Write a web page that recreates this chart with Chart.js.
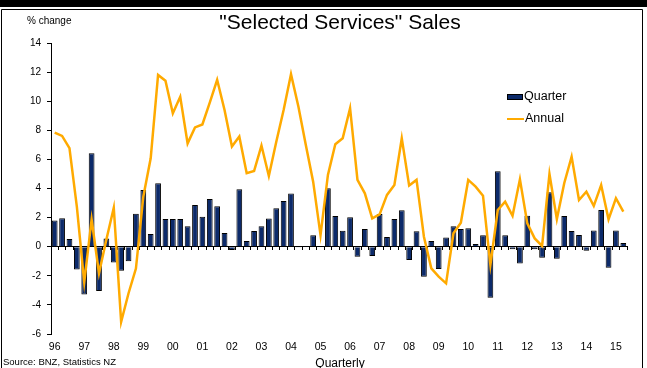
<!DOCTYPE html>
<html><head><meta charset="utf-8">
<script src="https://cdn.jsdelivr.net/npm/chart.js@4.4.0/dist/chart.umd.min.js"></script>
<style>html,body{margin:0;padding:0;background:#fff;overflow:hidden}#wrap{width:647px;height:368px;position:relative}</style>
</head><body><div id="wrap"><canvas id="c" width="647" height="368"></canvas></div>
<script>
const years = ['96','97','98','99','00','01','02','03','04','05','06','07','08','09','10','11','12','13','14','15'];
const categories = [];
years.forEach(y => ['Q1','Q2','Q3','Q4'].forEach(q => categories.push(y + q)));
categories.length = 78; // 1996Q1 .. 2015Q2

const quarterly = [1.8, 1.95, 0.53, -1.56, -3.28, 6.42, -3.05, 0.57, -1.08, -1.65,
  -1.0, 2.27, 3.9, 0.87, 4.36, 1.9, 1.9, 1.9, 1.4, 2.87,
  2.06, 3.28, 2.78, 0.94, -0.23, 3.94, 0.39, 1.08, 1.4, 1.93,
  2.64, 3.14, 3.65, -0.02, 0.05, 0.78, 0.02, 4.01, 2.11, 1.1,
  2.02, -0.69, 1.22, -0.64, 2.25, 0.67, 1.9, 2.5, -0.92, 1.06,
  -2.06, 0.39, -1.54, 0.64, 1.4, 1.22, 1.26, 0.18, 0.78, -3.51,
  5.18, 0.78, -0.18, -1.15, 2.13, -0.18, -0.76, 3.74, -0.83, 2.11,
  1.08, 0.8, -0.28, 1.12, 2.52, -1.44, 1.12, 0.25];

const annual = [7.84, 7.61, 6.77, 2.75, -2.45, 1.88, -1.83, 0.5, 2.68, -5.16,
  -3.2, -1.5, 3.44, 6.08, 11.8, 11.4, 9.17, 10.3, 7.1, 8.2,
  8.4, 9.9, 11.47, 9.4, 6.88, 7.57, 5.05, 5.2, 6.95, 4.86,
  7.2, 9.4, 11.86, 9.63, 7.0, 4.47, 0.8, 4.93, 7.04, 7.45,
  9.52, 4.59, 3.67, 1.95, 2.22, 3.56, 4.24, 7.45, 4.2, 4.59,
  0.69, -1.49, -2.06, -2.52, 0.92, 1.65, 4.59, 4.13, 3.51, -1.26,
  2.52, 3.1, 2.13, 4.63, 1.6, 0.57, 0.05, 5.0, 1.9, 4.36,
  6.19, 3.21, 3.78, 2.8, 4.24, 1.88, 3.33, 2.41];

const yMin = -6, yMax = 14, yStep = 2;
const FONT = "'Liberation Sans', Arial, sans-serif";
const NAVY = '#0c2a6a', ORANGE = '#FFAA00';

const decor = {
  id: 'decor',
  beforeDraw(chart) {
    const ctx = chart.ctx;
    ctx.save();
    ctx.fillStyle = '#fff';
    ctx.fillRect(0, 0, chart.width, chart.height);
    ctx.fillStyle = '#000';
    ctx.fillRect(0, 0, chart.width, 7);
    ctx.strokeStyle = '#000';
    ctx.lineWidth = 1;
    ctx.beginPath();
    ctx.moveTo(1.5, chart.height + 2);
    ctx.lineTo(1.5, 9.5);
    ctx.lineTo(642.5, 9.5);
    ctx.lineTo(642.5, chart.height + 2);
    ctx.stroke();
    ctx.restore();
  },
  afterDraw(chart) {
    const ctx = chart.ctx;
    ctx.save();
    ctx.fillStyle = '#000';
    ctx.textBaseline = 'middle';
    ctx.textAlign = 'center';
    ctx.font = '21px ' + FONT;
    ctx.fillText('"Selected Services" Sales', 340, 23);
    ctx.textAlign = 'left';
    ctx.font = '10px ' + FONT;
    ctx.fillText('% change', 27, 21);
    ctx.font = '9.5px ' + FONT;
    ctx.fillText('Source: BNZ, Statistics NZ', 3, 362);
    ctx.textAlign = 'center';
    ctx.font = '12px ' + FONT;
    ctx.fillText('Quarterly', 340, 364);
    // legend
    const ds = chart.data.datasets;
    ctx.textAlign = 'left';
    ctx.font = '12.5px ' + FONT;
    const lx = 507, ly1 = 97, ly2 = 119;
    ctx.fillStyle = ds[0].backgroundColor;
    ctx.fillRect(lx, ly1 - 3, 16, 6);
    ctx.strokeStyle = '#000';
    ctx.lineWidth = 1;
    ctx.strokeRect(lx + 0.5, ly1 - 2.5, 15, 5);
    ctx.strokeStyle = ds[1].borderColor;
    ctx.lineWidth = 2;
    ctx.beginPath();
    ctx.moveTo(lx, ly2); ctx.lineTo(lx + 17, ly2); ctx.stroke();
    ctx.fillStyle = '#000';
    ctx.fillText(ds[0].label, lx + 17, ly1);
    ctx.fillText(ds[1].label, lx + 18, ly2);
    ctx.restore();
  }
};

new Chart(document.getElementById('c'), {
  data: {
    labels: categories,
    datasets: [
      { type: 'bar', label: 'Quarter', data: quarterly, backgroundColor: NAVY, borderColor: '#000',
        borderWidth: 1, barPercentage: 0.78, categoryPercentage: 1, order: 1, xAxisID: 'x', yAxisID: 'y' },
      { type: 'line', label: 'Annual', data: annual, borderColor: ORANGE, backgroundColor: ORANGE,
        borderWidth: 2.5, pointRadius: 0, tension: 0, order: 0, xAxisID: 'x', yAxisID: 'y' }
    ]
  },
  options: {
    responsive: false,
    animation: false,
    devicePixelRatio: 1,
    layout: { padding: { left: 0, right: 20, top: 43, bottom: 0 } },
    plugins: { legend: { display: false }, tooltip: { enabled: false }, title: { display: false } },
    scales: {
      x: {
        type: 'category', position: 'bottom', offset: true,
        grid: { display: false, drawTicks: false }, border: { display: false },
        ticks: { autoSkip: false, maxRotation: 0, minRotation: 0, padding: 7, color: '#000',
          font: { family: FONT, size: 10.5 },
          callback: (v, i) => (i % 4 === 0 ? years[i / 4] : '') },
        afterFit: s => { s.height = 34; }
      },
      x0: {
        type: 'category', position: { y: 0 }, offset: true,
        grid: { drawOnChartArea: false, drawTicks: true, tickLength: 3, color: '#000', offset: true },
        border: { display: true, color: '#000', width: 1 },
        ticks: { display: false }
      },
      y: {
        type: 'linear', position: 'left', min: yMin, max: yMax,
        grid: { drawOnChartArea: false, drawTicks: true, tickLength: 4, color: '#000' },
        border: { display: true, color: '#000', width: 1 },
        ticks: { stepSize: yStep, padding: 6, color: '#000', font: { family: FONT, size: 10 } },
        afterFit: s => { s.width = 51; }
      }
    }
  },
  plugins: [decor]
});
</script></body></html>
